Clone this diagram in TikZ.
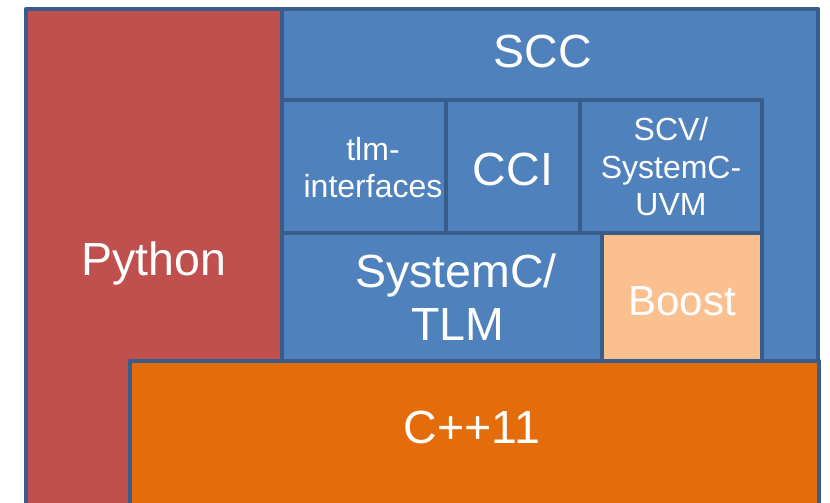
\documentclass[tikz,border=0pt]{standalone}
\usepackage{fontspec}
\setmainfont{Liberation Sans}
\definecolor{edgeblue}{RGB}{56,93,138}
\definecolor{sccblue}{RGB}{79,129,189}
\definecolor{pyred}{RGB}{192,80,77}
\definecolor{cppor}{RGB}{228,108,10}
\definecolor{boostor}{RGB}{250,192,144}
\begin{document}
\begin{tikzpicture}[x=1pt,y=-1pt,
  blk/.style={draw=edgeblue, line width=4.5pt, line join=round, rectangle,
    inner sep=0pt, outer sep=0pt, anchor=north west},
  big/.style={text=white, font=\fontsize{46.5}{54}\selectfont, anchor=base, inner sep=0pt},
  boosttxt/.style={text=white, font=\fontsize{42}{50}\selectfont, anchor=base, inner sep=0pt},
  small/.style={text=white, font=\fontsize{32}{38}\selectfont, anchor=base, inner sep=0pt}]
\useasboundingbox (0,0) rectangle (830,503);
\clip (0,0) rectangle (830,503);

% layer blocks
\node[blk, fill=pyred, minimum width=256pt, minimum height=520pt] (python) at (26,9) {};
\node[blk, fill=sccblue, minimum width=536pt, minimum height=352pt] (scc) at (282,9) {};
\node[blk, fill=sccblue, minimum width=164pt, minimum height=133pt] (tlmif) at (282,100) {};
\node[blk, fill=sccblue, minimum width=134pt, minimum height=133pt] (cci) at (446,100) {};
\node[blk, fill=sccblue, minimum width=182pt, minimum height=133pt] (scv) at (580,100) {};
\node[blk, fill=sccblue, minimum width=320pt, minimum height=128pt] (systemc) at (282,233) {};
\node[blk, fill=boostor, minimum width=160pt, minimum height=128pt] (boost) at (602,233) {};
\node[blk, fill=cppor, minimum width=689pt, minimum height=160pt] (cpp) at (130,361) {};

% labels
\node[big] (lpython) at (154,275) {Python};
\node[big] (lscc) at (543,67) {SCC};
\node[small] (ltlma) at (373,160) {tlm-};
\node[small] (ltlmb) at (373,197) {interfaces};
\node[big] (lcci) at (513,185) {CCI};
\node[small] (lscva) at (671,140) {SCV/};
\node[small] (lscvb) at (671,178) {SystemC-};
\node[small] (lscvc) at (671,215) {UVM};
\node[big] (lsysa) at (456,287) {SystemC/};
\node[big] (lsysb) at (458,340) {TLM};
\node[boosttxt] (lboost) at (682,315) {Boost};
\node[big] (lcpp) at (472,443) {C++11};
\end{tikzpicture}
\end{document}
